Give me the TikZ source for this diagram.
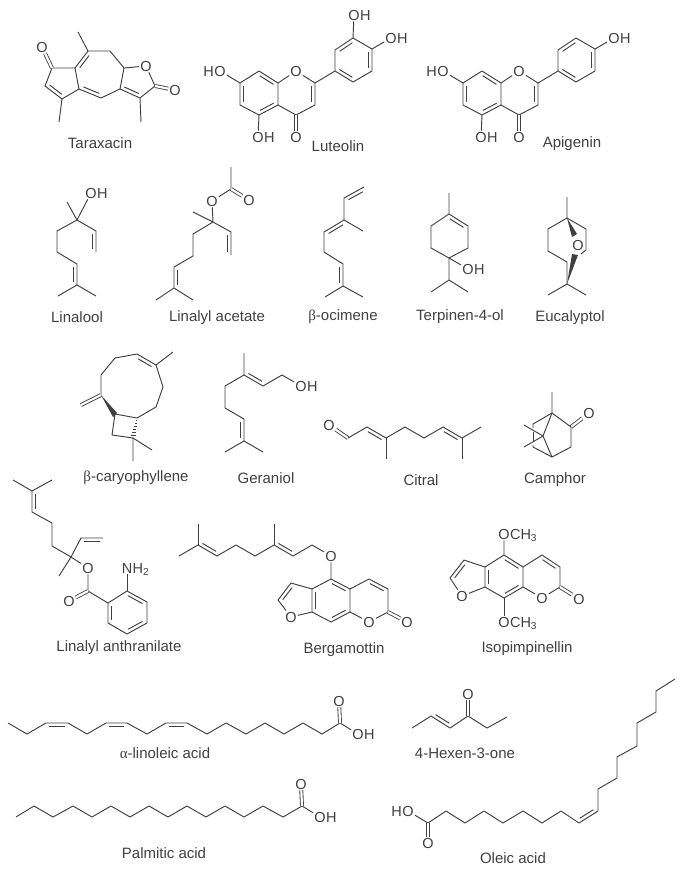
\documentclass[tikz,border=0pt]{standalone}
\usepackage{fontspec}
\setmainfont{Liberation Sans}
\newfontfamily\greekserif{Liberation Serif}
\usetikzlibrary{calc}
\definecolor{inkcol}{gray}{0.25}
\tikzset{
  bond/.style={draw=inkcol,line width=.95pt,line join=round},
  dbl/.style={draw=inkcol,line width=.85pt,double=white,double distance=2.2pt},
  atom/.style={text=inkcol,inner sep=1pt,text height=10.4pt,text depth=0pt,font=\fontsize{14.5}{15}\selectfont},
  molname/.style={text=inkcol,inner sep=0pt,font=\fontsize{15}{16}\selectfont}
}
% second line of a double bond, on the right of a -> b
\newcommand{\inbond}[3][3.6pt]{\draw[bond] ($(#2)!.14!(#3)!#1!-90:(#3)$) -- ($(#3)!.14!(#2)!#1!90:(#2)$);}
\newcommand{\hydroxyR}[2]{\node[atom] (#1) at (#2) {O}; \node[atom,anchor=west,inner xsep=0pt,xshift=-1pt] (#1H) at (#1.east) {H};}
\newcommand{\hydroxyL}[2]{\node[atom] (#1) at (#2) {O}; \node[atom,anchor=east,inner xsep=0pt,xshift=1pt] (#1H) at (#1.west) {H};}
\newcommand{\methoxy}[2]{\node[atom] (#1) at (#2) {O}; \node[atom,anchor=west,inner xsep=0pt,xshift=-1pt] (#1Me) at (#1.east) {CH\textsubscript{3}};}
\newcommand{\flavone}[1]{
  \node[atom] (#1Or) at (296,71) {O};
  \node[atom] (#1Ok) at (296,137) {O};
  \hydroxyR{#1Oa}{258,137}
  \hydroxyL{#1Ob}{220,71}
  \hydroxyR{#1Oc}{391,38}
  \draw[bond] (259,71) -- (278,83) -- (278,105) -- (259,115) -- (240,105) -- (240,83) -- cycle;
  \draw[bond] (278,83) -- (#1Or) -- (315,83) -- (315,105) -- (296,115) -- (278,105);
  \draw[dbl] (296,115) -- (#1Ok);
  \draw[bond] (259,115) -- (#1Oa);
  \draw[bond] (240,83) -- (#1Ob);
  \draw[bond] (315,83) -- (335,71);
  \draw[bond] (335,71) -- (335,50) -- (353,38) -- (372,49) -- (372,71) -- (353,82) -- cycle;
  \draw[bond] (372,49) -- (#1Oc);
  \inbond{259,71}{278,83}
  \inbond{278,105}{259,115}
  \inbond{240,105}{240,83}
  \inbond{315,83}{315,105}
  \inbond{335,50}{353,38}
  \inbond{372,49}{372,71}
  \inbond{353,82}{335,71}
}
\begin{document}
\begin{tikzpicture}[x=1pt,y=-1pt]
\useasboundingbox (0,0) rectangle (689,873);
% taraxacin
\node[atom] (tarOa) at (42,47) {O};
\node[atom] (tarOr) at (146,66) {O};
\node[atom] (tarOb) at (175,90) {O};
\draw[bond] (52,68) -- (75,68) -- (79,89) -- (62,99) -- (45,86) -- cycle;
\draw[bond] (75,68) -- (88,51) -- (110,51) -- (124,68) -- (120,89) -- (101,98) -- (79,89);
\draw[bond] (124,68) -- (tarOr) -- (155,86) -- (140,98) -- (120,89);
\draw[bond] (88,51) -- (78,32);
\draw[bond] (62,99) -- (59,122);
\draw[bond] (140,98) -- (141,122);
\draw[dbl] (52,68) -- (tarOa);
\draw[dbl] (155,86) -- (tarOb);
\inbond{62,99}{45,86}
\inbond{75,68}{88,51}
\inbond{101,98}{79,89}
\inbond{140,98}{120,89}
\node[molname] (tarName) at (100,143) {Taraxacin};
% flavones
\flavone{lut}
\hydroxyR{lutOd}{354,15}
\draw[bond] (353,38) -- (lutOd);
\node[molname] (lutName) at (338,146) {Luteolin};
\begin{scope}[shift={(223,0)}]
\flavone{api}
\end{scope}
\node[molname] (apiName) at (572,144) {Apigenin};
% linalool
\hydroxyR{linO}{91,193}
\draw[bond] (77,220) -- (linO);
\draw[bond] (67,202) -- (77,220) -- (96,231) -- (96,252);
\draw[bond] (77,220) -- (57,231) -- (57,252) -- (77,264) -- (77,285) -- (58,296);
\draw[bond] (77,285) -- (96,296);
\inbond{96,231}{96,252}
\inbond{77,264}{77,285}
\node[molname] (linName) at (77,317) {Linalool};
% linalyl acetate
\node[atom] (aceOa) at (212,201) {O};
\node[atom] (aceOb) at (249,200) {O};
\draw[bond] (213,222) -- (aceOa) -- (231,189) -- (231,167);
\draw[dbl] (231,189) -- (aceOb);
\draw[bond] (193,212) -- (213,222) -- (231,232) -- (231,255);
\draw[bond] (213,222) -- (193,234) -- (193,256) -- (174,267) -- (174,288) -- (156,300);
\draw[bond] (174,288) -- (193,300);
\inbond{231,232}{231,255}
\inbond{174,288}{174,267}
\node[molname] (aceName) at (217,318) {Linalyl acetate};
% ocimene
\draw[bond] (364,187) -- (344,198) -- (344,220) -- (363,231);
\draw[bond] (344,220) -- (324,232) -- (324,252) -- (343,264) -- (343,286) -- (325,297);
\draw[bond] (343,286) -- (363,297);
\inbond{344,198}{364,187}
\inbond{324,232}{344,220}
\inbond{343,264}{343,286}
\node[molname] (ociName) at (343,317) {{\greekserif β}-ocimene};
% terpinen-4-ol
\hydroxyR{terO}{468,269}
\draw[bond] (449,193) -- (449,214) -- (468,226) -- (468,248) -- (449,258) -- (431,248) -- (431,226) -- (449,214);
\draw[bond] (449,258) -- (terO);
\draw[bond] (449,258) -- (449,280) -- (431,292);
\draw[bond] (449,280) -- (468,292);
\inbond{449,214}{468,226}
\node[molname] (terName) at (460,317) {Terpinen-4-ol};
% eucalyptol
\node[atom] (eucO) at (578,245) {O};
\draw[bond] (567,197) -- (567,218) -- (586,229) -- (586,250) -- (581,254);
\draw[bond] (567,218) -- (548,229) -- (548,251) -- (567,262) -- (567,284) -- (548,295);
\draw[bond] (567,284) -- (586,295);
\fill[inkcol] (567,218) -- (572,237) -- (577,234) -- cycle;
\fill[inkcol] (567,284) -- (572,254) -- (578,255) -- cycle;
\node[molname] (eucName) at (570,318) {Eucalyptol};
% caryophyllene
\draw[bond] (173,352) -- (156,365) -- (137,354) -- (115,358) -- (101,375) -- (101,395);
\draw[bond] (115,414) -- (137,418) -- (156,407) -- (163,387) -- (156,365);
\draw[bond] (115,414) -- (112,435) -- (133,438) -- (133,461);
\draw[bond] (133,438) -- (152,450);
\draw[dbl] (101,395) -- (81,405);
\fill[inkcol] (101,395) -- (113,417) -- (117,413) -- cycle;
\inbond{137,354}{156,365}
\foreach \t in {.1,.25,.4,.55,.7,.85}
  \draw[inkcol,line width=.8pt] ({137-4*\t-.5-2*\t},{418+20*\t}) -- ({137-4*\t+.5+2*\t},{418+20*\t});
\node[molname] (caryName) at (136,478) {{\greekserif β}-caryophyllene};
% geraniol
\hydroxyR{gerO}{301,386}
\draw[bond] (244,353) -- (244,375) -- (263,386) -- (282,375) -- (gerO);
\draw[bond] (244,375) -- (225,386) -- (225,408) -- (244,419) -- (244,441) -- (225,452);
\draw[bond] (244,441) -- (263,452);
\inbond{263,386}{244,375}
\inbond{244,419}{244,441}
\node[molname] (gerName) at (266,478) {Geraniol};
% citral
\node[atom] (citO) at (329,425) {O};
\draw[dbl] (348,438) -- (citO);
\draw[bond] (348,438) -- (367,427) -- (386,438) -- (405,427) -- (424,438) -- (443,427) -- (462,438) -- (481,427);
\draw[bond] (386,438) -- (386,459);
\draw[bond] (462,438) -- (462,459);
\inbond{367,427}{386,438}
\inbond{443,427}{462,438}
\node[molname] (citName) at (421,480) {Citral};
% camphor
\node[atom] (camO) at (589,413) {O};
\draw[dbl] (571,427) -- (camO);
\draw[bond] (552,392) -- (552,413) -- (571,427) -- (571,447) -- (552,457) -- (543,436) -- (552,413);
\draw[bond] (552,413) -- (533,424) -- (533,428);
\draw[bond] (533,432) -- (533,441);
\draw[bond] (533,445) -- (533,447) -- (552,457);
\draw[bond] (524,425) -- (543,436) -- (524,447);
\node[molname] (camName) at (555,480) {Camphor};
% linalyl anthranilate
\node[atom] (antOa) at (88,568) {O};
\node[atom] (antOb) at (69,601) {O};
\node[atom] (antN) at (127,568) {N};
\node[atom,anchor=west,inner xsep=0pt,xshift=-1pt] (antNh) at (antN.east) {H\textsubscript{2}};
\draw[bond] (13,480) -- (32,491) -- (52,480);
\draw[bond] (32,491) -- (32,512) -- (52,523) -- (52,546) -- (71,557) -- (59,576);
\draw[bond] (103,538) -- (81,538) -- (71,557) -- (antOa) -- (88,591) -- (108,603);
\draw[dbl] (88,591) -- (antOb);
\draw[bond] (108,603) -- (127,591) -- (147,602) -- (147,623) -- (127,634) -- (108,623) -- cycle;
\draw[bond] (127,591) -- (antN);
\inbond{32,512}{32,491}
\inbond{81,538}{103,538}
\inbond{127,591}{147,602}
\inbond{147,623}{127,634}
\inbond{108,623}{108,603}
\node[molname] (antName) at (119,648) {Linalyl anthranilate};
% bergamottin
\node[atom] (berOa) at (331,556) {O};
\node[atom] (berOb) at (291,617) {O};
\node[atom] (berOc) at (369,622) {O};
\node[atom] (berOd) at (407,622) {O};
\draw[bond] (179,556) -- (198,545) -- (217,556) -- (236,545) -- (255,556) -- (274,545) -- (293,556) -- (312,545) -- (berOa) -- (331,579);
\draw[bond] (198,545) -- (198,524);
\draw[bond] (274,545) -- (274,524);
\draw[bond] (331,579) -- (350,589) -- (350,612) -- (331,622) -- (312,612) -- (312,589) -- cycle;
\draw[bond] (312,589) -- (291,583) -- (278,600) -- (berOb) -- (312,612);
\draw[bond] (350,589) -- (369,579) -- (388,589) -- (388,612) -- (berOc) -- (350,612);
\draw[dbl] (388,612) -- (berOd);
\inbond{217,556}{198,545}
\inbond{293,556}{274,545}
\inbond{331,579}{350,589}
\inbond{350,612}{331,622}
\inbond{312,612}{312,589}
\inbond{278,600}{291,583}
\inbond{369,579}{388,589}
\node[molname] (berName) at (344,650) {Bergamottin};
% isopimpinellin
\methoxy{isoOa}{504,534}
\methoxy{isoOb}{504,622}
\node[atom] (isoOc) at (462,596) {O};
\node[atom] (isoOd) at (542,598) {O};
\node[atom] (isoOe) at (579,599) {O};
\draw[bond] (isoOa) -- (504,555) -- (523,567) -- (523,587) -- (504,598) -- (485,587) -- (485,567) -- (504,555);
\draw[bond] (504,598) -- (isoOb);
\draw[bond] (485,567) -- (464,560) -- (450,578) -- (isoOc) -- (485,587);
\draw[bond] (523,567) -- (542,555) -- (560,567) -- (560,587) -- (isoOd) -- (523,587);
\draw[dbl] (560,587) -- (isoOe);
\inbond{504,555}{523,567}
\inbond{523,587}{504,598}
\inbond{485,587}{485,567}
\inbond{450,578}{464,560}
\inbond{542,555}{560,567}
\node[molname] (isoName) at (527,649) {Isopimpinellin};
% linolenic chain
\node[atom] (lnaO) at (339,701) {O};
\hydroxyR{lnaOh}{358,734}
\draw[bond] (8,723) -- (27,734) -- (46,723) -- (68,723) -- (87,734) -- (106,723) -- (127,723) -- (147,734) -- (166,723) -- (187,723) -- (207,734) -- (226,723) -- (246,734) -- (265,723) -- (284,734) -- (303,723) -- (322,734) -- (340,723) -- (lnaOh);
\draw[dbl] (340,723) -- (lnaO);
\inbond{46,723}{68,723}
\inbond{106,723}{127,723}
\inbond{166,723}{187,723}
\node[molname] (lnaName) at (165,753) {{\greekserif α}-linoleic acid};
% palmitic chain
\node[atom] (palO) at (301,784) {O};
\hydroxyR{palOh}{320,817}
\draw[bond] (16,817) -- (34,806) -- (53,817) -- (73,806) -- (92,817) -- (111,806) -- (130,817) -- (149,806) -- (168,817) -- (187,806) -- (206,817) -- (225,806) -- (244,817) -- (263,806) -- (283,817) -- (302,806) -- (palOh);
\draw[dbl] (302,806) -- (palO);
\node[molname] (palName) at (164,853) {Palmitic acid};
% hexenone
\node[atom] (hexO) at (468,694) {O};
\draw[bond] (412,728) -- (431,716) -- (450,728) -- (468,716) -- (487,728) -- (507,717);
\draw[dbl] (468,716) -- (hexO);
\inbond{450,728}{431,716}
\node[molname] (hexName) at (465,753) {4-Hexen-3-one};
% oleic chain
\hydroxyL{oleOh}{408,811}
\node[atom] (oleO) at (428,843) {O};
\draw[bond] (oleOh) -- (428,823) -- (446,811) -- (465,823) -- (484,811) -- (503,823) -- (523,811) -- (542,823) -- (561,811) -- (579,823) -- (598,811) -- (598,789) -- (617,778) -- (617,757) -- (637,746) -- (637,723) -- (656,712) -- (656,691) -- (675,679);
\draw[dbl] (428,823) -- (oleO);
\inbond{598,811}{579,823}
\node[molname] (oleName) at (513,858) {Oleic acid};
\end{tikzpicture}
\end{document}
